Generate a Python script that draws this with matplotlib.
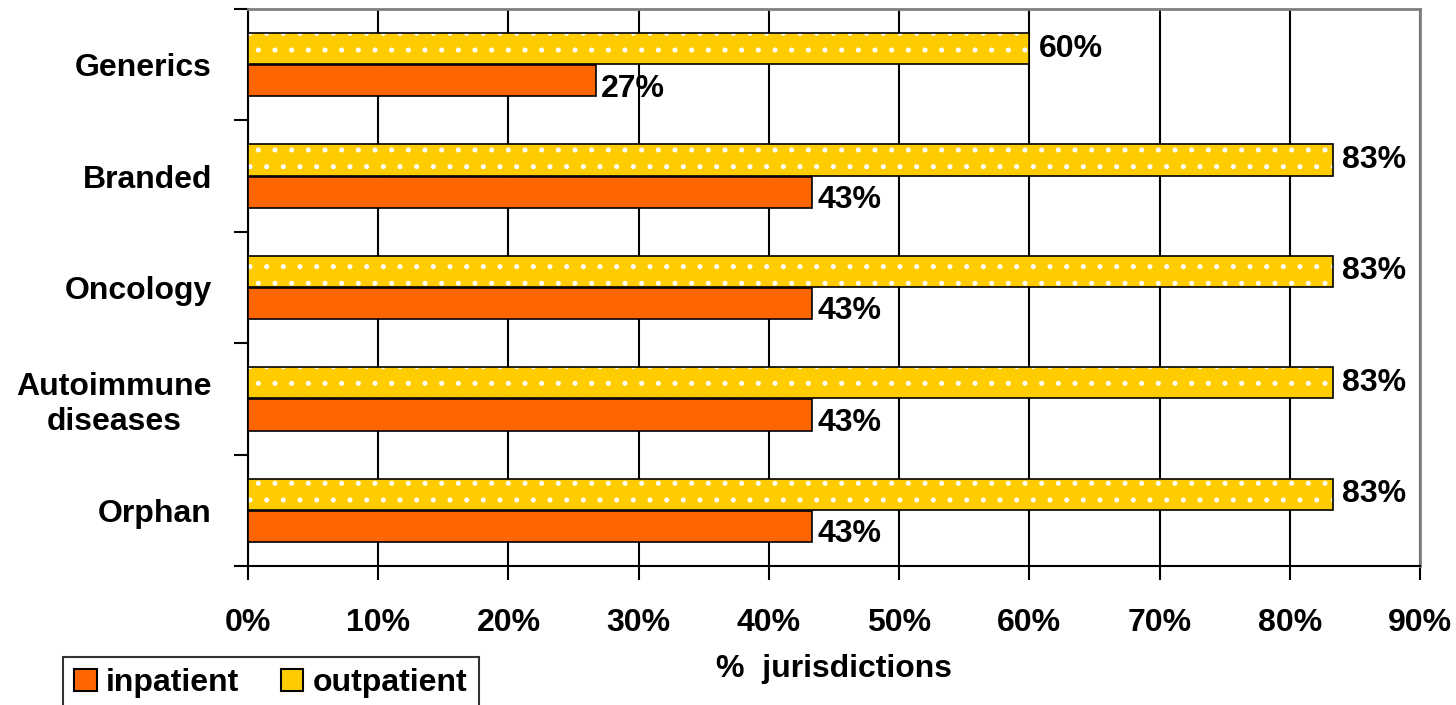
import numpy as np
import matplotlib
matplotlib.use("Agg")
import matplotlib.pyplot as plt
from matplotlib.ticker import FixedLocator, PercentFormatter

categories = ["Generics", "Branded", "Oncology", "Autoimmune\ndiseases", "Orphan"]
outpatient = [0.600, 0.833, 0.833, 0.833, 0.833]
inpatient = [0.267, 0.433, 0.433, 0.433, 0.433]
value_labels_out = ["60%", "83%", "83%", "83%", "83%"]
value_labels_in = ["27%", "43%", "43%", "43%", "43%"]

ORANGE = "#FF6600"
YELLOW = "#FFCC00"
FS = 23

plt.rcParams['font.family'] = ['Liberation Sans', 'DejaVu Sans']
plt.rcParams['font.weight'] = 'bold'
plt.rcParams['hatch.linewidth'] = 1.2

fig = plt.figure(figsize=(14.56, 7.05), dpi=100)
ax = fig.add_axes([248 / 1456, 1 - 566 / 705, (1420 - 248) / 1456, (566 - 9) / 705])

y = np.arange(len(categories))
h = 0.28
off = 0.145

# outpatient: yellow with white dot texture, then black outline
ax.barh(y - off, outpatient, height=h, color=YELLOW, edgecolor="white",
        hatch=".", linewidth=0, zorder=3)
ax.barh(y - off, outpatient, height=h, color="none", edgecolor="black",
        linewidth=1.2, zorder=4)
ax.barh(y + off, inpatient, height=h, color=ORANGE, edgecolor="black",
        linewidth=1.2, zorder=3)

for yi, v, s in zip(y, outpatient, value_labels_out):
    ax.text(v + 0.007, yi - off, s, va="center", ha="left",
            fontsize=FS, fontweight="bold", zorder=5)
for yi, v, s in zip(y, inpatient, value_labels_in):
    ax.text(v + 0.004, yi + off + 0.07, s, va="center", ha="left",
            fontsize=FS, fontweight="bold", zorder=5)

ax.set_xlim(0, 0.9)
ax.set_ylim(len(categories) - 0.5, -0.5)
ax.set_xticks(np.arange(0, 0.91, 0.1))
ax.xaxis.set_major_formatter(PercentFormatter(1.0, decimals=0))
ax.tick_params(axis="x", direction="out", length=10, width=1.5, pad=20,
               labelsize=FS)
for lbl in ax.get_xticklabels():
    lbl.set_fontweight("bold")

ax.yaxis.set_major_locator(FixedLocator(np.arange(-0.5, len(categories), 1.0)))
ax.yaxis.set_minor_locator(FixedLocator(y))
ax.set_yticklabels([], minor=False)
ax.set_yticklabels(categories, minor=True, fontsize=FS, fontweight="bold",
                   multialignment="center")
ax.tick_params(axis="y", which="major", direction="out", length=10, width=1.5)
ax.tick_params(axis="y", which="minor", length=0, pad=26)

ax.grid(axis="x", color="black", linewidth=1.5, zorder=1)
ax.set_axisbelow(True)

for side in ["left", "bottom"]:
    ax.spines[side].set_color("black")
    ax.spines[side].set_linewidth(1.5)
for side in ["top", "right"]:
    ax.spines[side].set_color("#808080")
    ax.spines[side].set_linewidth(2)

ax.set_xlabel("%  jurisdictions", fontsize=FS, fontweight="bold", labelpad=12)

handles = [
    plt.Rectangle((0, 0), 1, 1, facecolor=ORANGE, edgecolor="black", linewidth=1.5),
    plt.Rectangle((0, 0), 1, 1, facecolor=YELLOW, edgecolor="black", linewidth=1.5),
]
leg = fig.legend(handles, ["inpatient", "outpatient"], loc="upper left",
                 bbox_to_anchor=(63 / 1456, 1 - 657 / 705), ncol=2,
                 fontsize=FS, frameon=True, fancybox=False,
                 handlelength=0.7, handleheight=0.7, handletextpad=0.3,
                 columnspacing=1.3, borderpad=0.35, borderaxespad=0)
leg.get_frame().set_edgecolor("black")
leg.get_frame().set_linewidth(1.5)
for t in leg.get_texts():
    t.set_fontweight("bold")

fig.savefig("out.png", dpi=100)
